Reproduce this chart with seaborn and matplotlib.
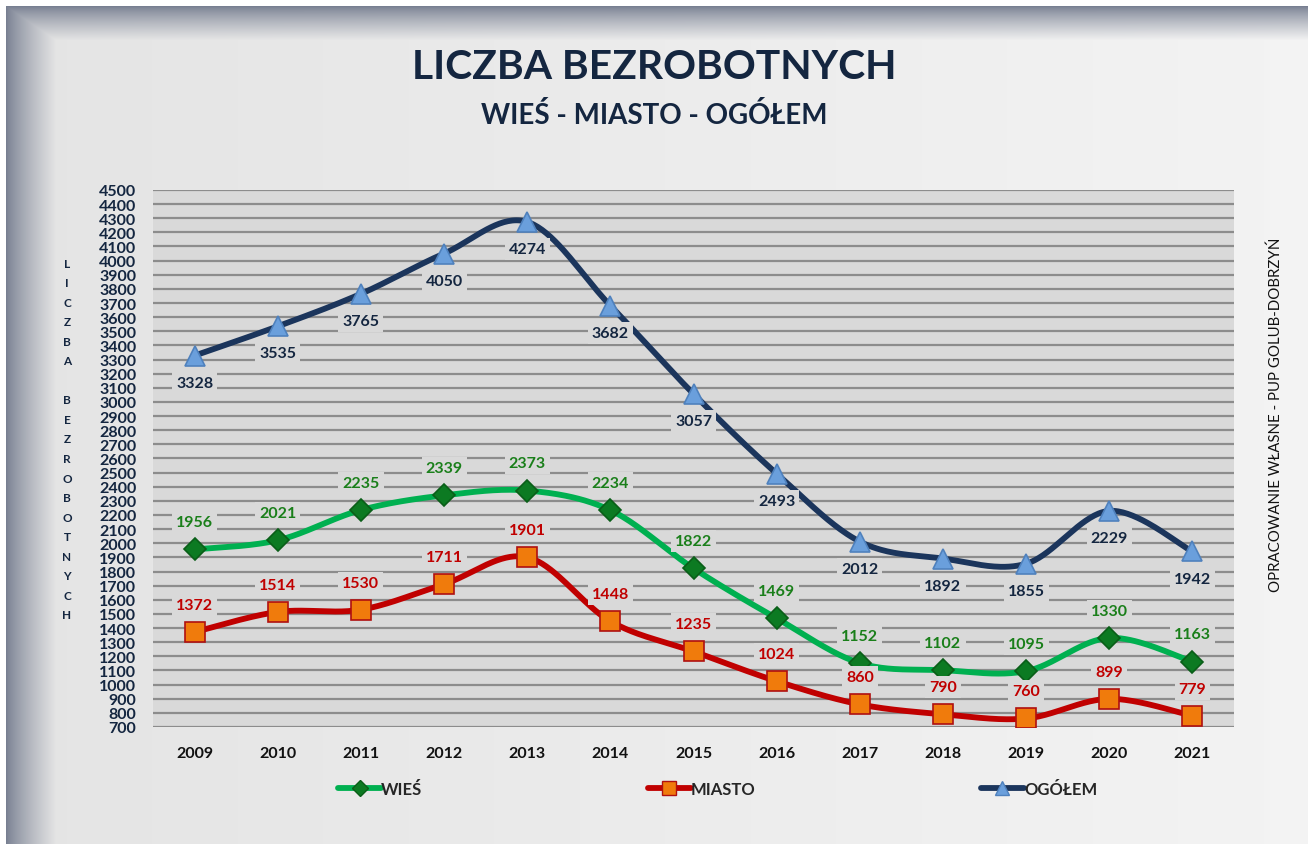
import numpy as np
import pandas as pd
import matplotlib
matplotlib.use("Agg")
import matplotlib.pyplot as plt
from matplotlib.lines import Line2D
import seaborn as sns

# dane - liczba bezrobotnych (PUP Golub-Dobrzyń)
years = [2009, 2010, 2011, 2012, 2013, 2014, 2015, 2016, 2017, 2018, 2019, 2020, 2021]
wies = [1956, 2021, 2235, 2339, 2373, 2234, 1822, 1469, 1152, 1102, 1095, 1330, 1163]
miasto = [1372, 1514, 1530, 1711, 1901, 1448, 1235, 1024, 860, 790, 760, 899, 779]
ogolem = [3328, 3535, 3765, 4050, 4274, 3682, 3057, 2493, 2012, 1892, 1855, 2229, 1942]
y_ticks = list(range(700, 4501, 100))

sns.set_style("white")
plt.rcParams["font.family"] = ["Lato", "DejaVu Sans"]

NAVY = "#142640"
PLOT_BG = "#d9d9d9"


def smooth(xs, ys, n=40):
    # krzywa jak "wygładzona linia" w Excelu (Catmull-Rom)
    pts = np.column_stack([xs, ys]).astype(float)
    p = np.vstack([pts[0], pts, pts[-1]])
    out = []
    t = np.linspace(0, 1, n)[:, None]
    for i in range(1, len(p) - 2):
        p0, p1, p2, p3 = p[i - 1], p[i], p[i + 1], p[i + 2]
        c1 = p1 + (p2 - p0) / 6
        c2 = p2 - (p3 - p1) / 6
        seg = (1 - t) ** 3 * p1 + 3 * (1 - t) ** 2 * t * c1 + 3 * (1 - t) * t ** 2 * c2 + t ** 3 * p2
        out.append(seg if i == 1 else seg[1:])
    return np.vstack(out)


fig = plt.figure(figsize=(13.08, 8.45), dpi=100)

# tlo z ramka
H, W = 845, 1308
yy, xx = np.mgrid[0:H, 0:W]
base = 0.895 + 0.06 * (xx / W)
t_top = np.clip((yy - 7) / 34.0, 0, 1)
t_left = np.clip((xx - 6) / 50.0, 0, 1)
t = np.minimum(t_top, t_left)
dark = np.array([0.47, 0.50, 0.57])
img = dark[None, None, :] + (base[..., None] - dark[None, None, :]) * (t[..., None] ** 0.8)
img[(yy < 7) | (xx < 6)] = 1.0
bg = fig.add_axes([0, 0, 1, 1], zorder=-10)
bg.imshow(img, aspect="auto", extent=[0, 1, 0, 1], transform=bg.transAxes)
bg.axis("off")

ax = fig.add_axes([0.117, 0.1385, 0.8264, 0.6355])
ax.set_facecolor(PLOT_BG)

x = np.arange(len(years))
series = [
    ("WIEŚ", wies, "#00b050", "D", "#0c7a22", "#0a5e18", 11.5, "#1a7f1a", 1),
    ("MIASTO", miasto, "#c00000", "s", "#f07b0c", "#b01010", 14, "#c00000", 1),
    ("OGÓŁEM", ogolem, "#1b355c", "^", "#6a9fdc", "#4f81bd", 15, NAVY, -1),
]

handles = []
for name, vals, lc, mk, mfc, mec, ms, tc, side in series:
    curve = smooth(x, vals)
    sns.lineplot(x=curve[:, 0], y=curve[:, 1], ax=ax, color=lc, lw=4.2,
                 sort=False, estimator=None, zorder=3)
    ax.plot(x, vals, ls="none", marker=mk, ms=ms, mfc=mfc, mec=mec, mew=1.2, zorder=4)
    for xi, v in zip(x, vals):
        ax.annotate(str(v), (xi, v), xytext=(0, 19.5 * side), textcoords="offset points",
                    ha="center", va="center", fontsize=11.5, fontweight="bold", color=tc,
                    bbox=dict(boxstyle="square,pad=0.25", fc=PLOT_BG, ec="none"), zorder=5)
    handles.append(Line2D([], [], color=lc, lw=4.2, marker=mk, ms=ms * 0.7,
                          mfc=mfc, mec=mec, solid_capstyle="round"))

ax.set_xlim(-0.5, len(years) - 0.5)
ax.set_ylim(700, 4500)
ax.set_yticks(y_ticks)
ax.set_xticks(x)
ax.set_xticklabels([str(y) for y in years])
ax.yaxis.grid(True, color="#8c8c8c", lw=1.6)
ax.set_axisbelow(True)
for s in ax.spines.values():
    s.set_visible(False)
ax.tick_params(axis="both", length=0, labelsize=11.5)
ax.tick_params(axis="y", pad=12, labelcolor=NAVY)
ax.tick_params(axis="x", pad=14, labelcolor="#111111")
for lab in ax.get_xticklabels() + ax.get_yticklabels():
    lab.set_fontweight("bold")
ax.set_xlabel("")
ax.set_ylabel("")

fig.text(0.5, 0.92, "LICZBA BEZROBOTNYCH", ha="center", va="center",
         fontsize=29.3, fontweight="bold", color=NAVY)
fig.text(0.5, 0.863, "WIEŚ - MIASTO - OGÓŁEM", ha="center", va="center",
         fontsize=20, fontweight="bold", color=NAVY)

fig.text(67 / W, 1 - 440 / H, "\n".join(list("LICZBA BEZROBOTNYCH")), ha="center", va="center",
         fontsize=8.5, fontweight="bold", color=NAVY, linespacing=1.95)
fig.text(1276 / W, 1 - 415 / H, "OPRACOWANIE WŁASNE - PUP GOLUB-DOBRZYŃ", rotation=90,
         ha="center", va="center", fontsize=10.8, color="#111111")

fig.legend(handles, [s[0] for s in series], loc="center", bbox_to_anchor=(0.5486, 0.065),
           ncol=3, frameon=False, handlelength=2.6, handletextpad=0.0, columnspacing=13.5,
           prop={"weight": "bold", "size": 12})

fig.savefig("out.png", dpi=100)
